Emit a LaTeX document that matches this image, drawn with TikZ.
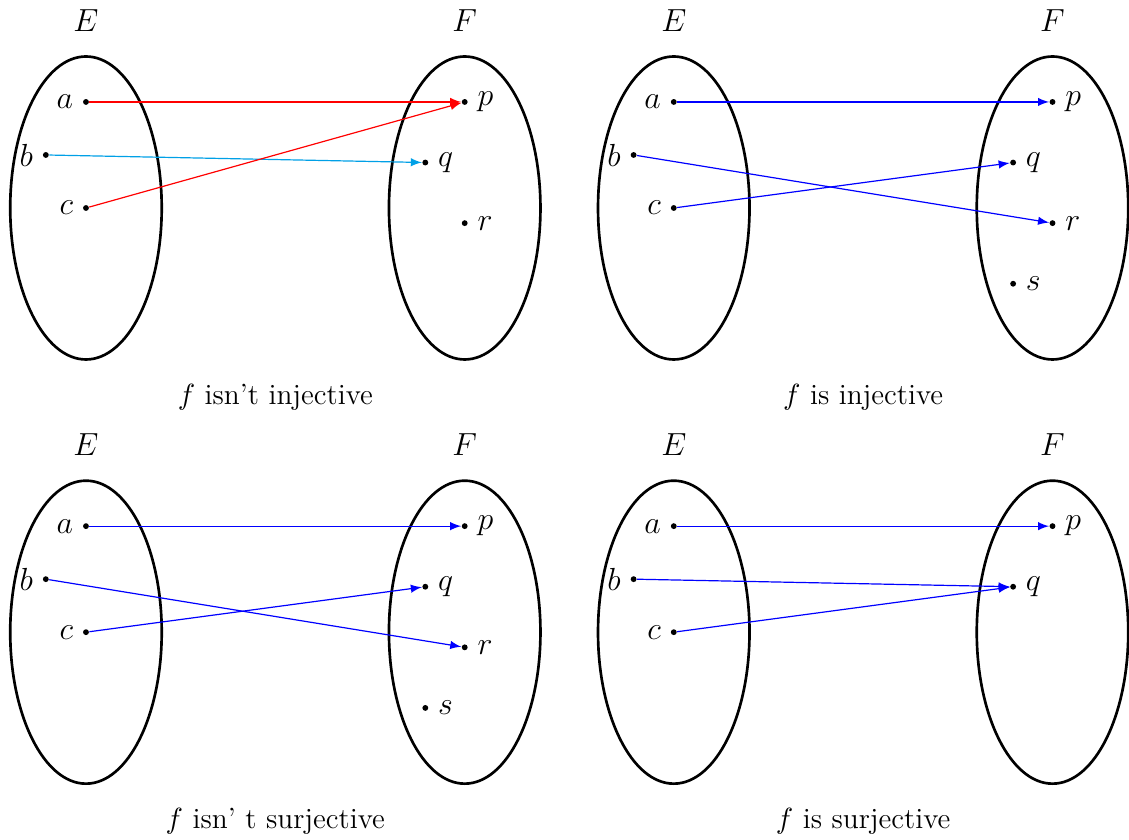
\documentclass[tikz,border=0pt]{standalone}
\definecolor{lightblue}{RGB}{0,160,230}
\tikzset{
  elem/.style={circle, fill, inner sep=0pt, minimum size=2.2pt},
  ens/.style={line width=1pt},
  fl/.style={-latex, line width=0.45pt},
}
\newcommand{\capsize}{\fontsize{11}{13}\selectfont}
\begin{document}
\begin{tikzpicture}
\useasboundingbox (-1.135,-8.343) rectangle (13.77,2.746);

% f isn't injective
\begin{scope}
  \draw[ens] (0,0) ellipse (1 and 2);
  \draw[ens] (5,0) ellipse (1 and 2);
  \node (E1) at (0,2.48) {\large $E$};
  \node (F1) at (5,2.48) {\large $F$};
  \node[elem, label=left:\large $a$] (a1) at (0,1.4) {};
  \node[elem, label=left:\large $b$] (b1) at (-0.53,0.7) {};
  \node[elem, label=left:\large $c$] (c1) at (0,0) {};
  \node[elem, label=right:\large $p$] (p1) at (5,1.4) {};
  \node[elem, label=right:\large $q$] (q1) at (4.48,0.6) {};
  \node[elem, label=right:\large $r$] (r1) at (5,-0.2) {};
  \draw[fl, red] (a1) -- (p1);
  \draw[fl, lightblue] (b1) -- (q1);
  \draw[fl, red] (c1) -- (p1);
  \node (cap1) at (2.5,-2.5) {\capsize $f$ isn't injective};
\end{scope}

% f is injective
\begin{scope}[xshift=7.76cm]
  \draw[ens] (0,0) ellipse (1 and 2);
  \draw[ens] (5,0) ellipse (1 and 2);
  \node (E2) at (0,2.48) {\large $E$};
  \node (F2) at (5,2.48) {\large $F$};
  \node[elem, label=left:\large $a$] (a2) at (0,1.4) {};
  \node[elem, label=left:\large $b$] (b2) at (-0.53,0.7) {};
  \node[elem, label=left:\large $c$] (c2) at (0,0) {};
  \node[elem, label=right:\large $p$] (p2) at (5,1.4) {};
  \node[elem, label=right:\large $q$] (q2) at (4.48,0.6) {};
  \node[elem, label=right:\large $r$] (r2) at (5,-0.2) {};
  \node[elem, label=right:\large $s$] (s2) at (4.48,-1) {};
  \draw[fl, blue] (a2) -- (p2);
  \draw[fl, blue] (b2) -- (r2);
  \draw[fl, blue] (c2) -- (q2);
  \node (cap2) at (2.5,-2.5) {\capsize $f$ is injective};
\end{scope}

% f isn't surjective
\begin{scope}[yshift=-5.6cm]
  \draw[ens] (0,0) ellipse (1 and 2);
  \draw[ens] (5,0) ellipse (1 and 2);
  \node (E3) at (0,2.48) {\large $E$};
  \node (F3) at (5,2.48) {\large $F$};
  \node[elem, label=left:\large $a$] (a3) at (0,1.4) {};
  \node[elem, label=left:\large $b$] (b3) at (-0.53,0.7) {};
  \node[elem, label=left:\large $c$] (c3) at (0,0) {};
  \node[elem, label=right:\large $p$] (p3) at (5,1.4) {};
  \node[elem, label=right:\large $q$] (q3) at (4.48,0.6) {};
  \node[elem, label=right:\large $r$] (r3) at (5,-0.2) {};
  \node[elem, label=right:\large $s$] (s3) at (4.48,-1) {};
  \draw[fl, blue] (a3) -- (p3);
  \draw[fl, blue] (b3) -- (r3);
  \draw[fl, blue] (c3) -- (q3);
  \node (cap3) at (2.5,-2.5) {\capsize $f$ isn' t surjective};
\end{scope}

% f is surjective
\begin{scope}[xshift=7.76cm, yshift=-5.6cm]
  \draw[ens] (0,0) ellipse (1 and 2);
  \draw[ens] (5,0) ellipse (1 and 2);
  \node (E4) at (0,2.48) {\large $E$};
  \node (F4) at (5,2.48) {\large $F$};
  \node[elem, label=left:\large $a$] (a4) at (0,1.4) {};
  \node[elem, label=left:\large $b$] (b4) at (-0.53,0.7) {};
  \node[elem, label=left:\large $c$] (c4) at (0,0) {};
  \node[elem, label=right:\large $p$] (p4) at (5,1.4) {};
  \node[elem, label=right:\large $q$] (q4) at (4.48,0.6) {};
  \draw[fl, blue] (a4) -- (p4);
  \draw[fl, blue] (b4) -- (q4);
  \draw[fl, blue] (c4) -- (q4);
  \node (cap4) at (2.5,-2.5) {\capsize $f$ is surjective};
\end{scope}
\end{tikzpicture}
\end{document}
